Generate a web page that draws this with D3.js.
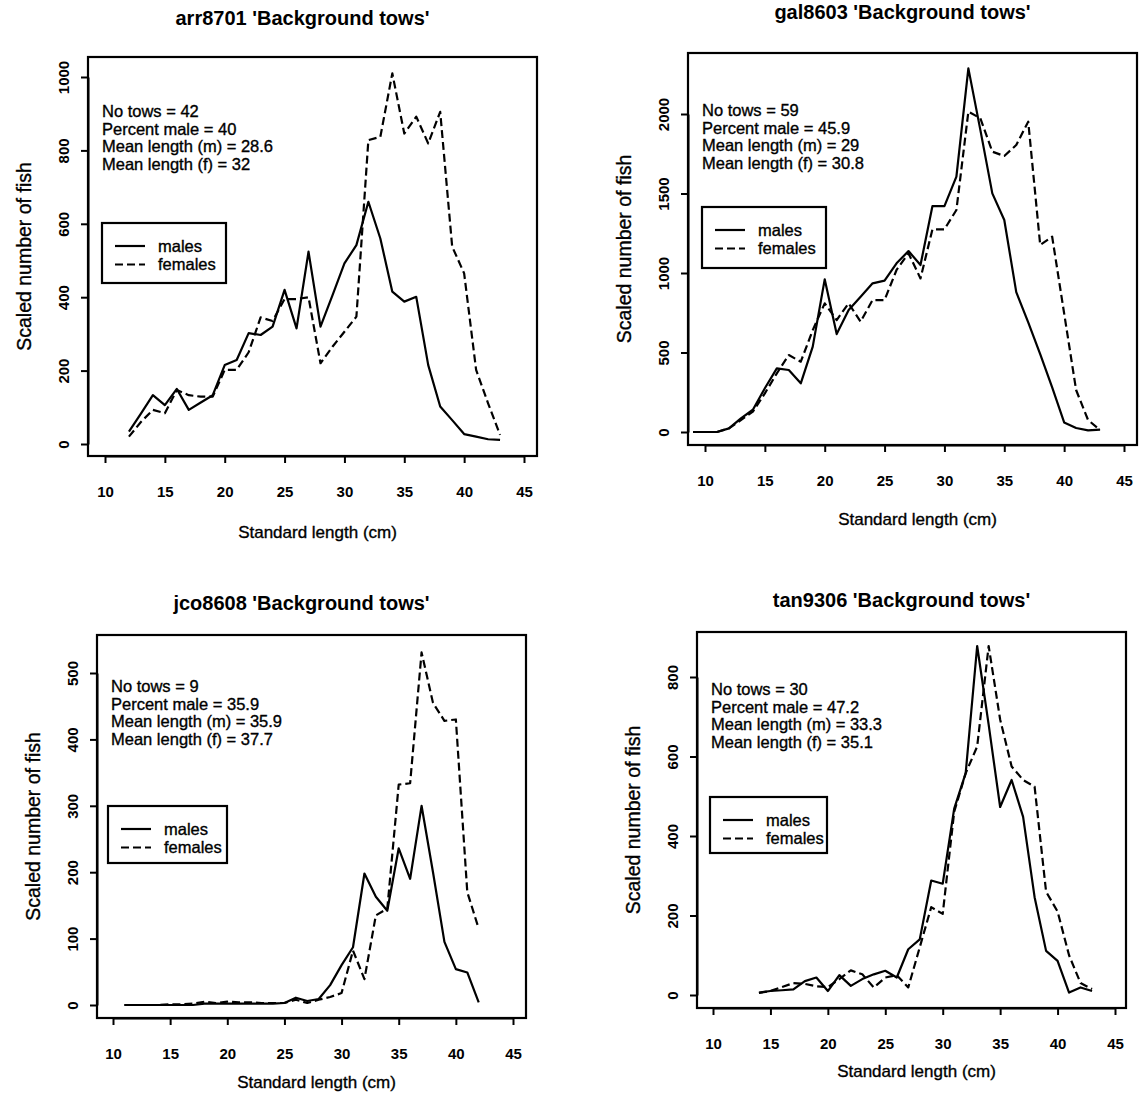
<!DOCTYPE html>
<html>
<head>
<meta charset="utf-8">
<script src="https://cdn.jsdelivr.net/npm/d3@7"></script>
<style>
  body { margin: 0; background: #fff; }
  svg { display: block; }
  text { font-family: "Liberation Sans", Arial, Helvetica, sans-serif; fill: #000; }
</style>
</head>
<body>
<svg id="chart" width="1141" height="1101"></svg>
<script>
// ---- Length-frequency data (standard length in cm, scaled number of fish) ----
const titles = ["arr8701 'Background tows'", "gal8603 'Background tows'",
                "jco8608 'Background tows'", "tan9306 'Background tows'"];
const noTows      = [42, 59, 9, 30];
const percentMale = [40, 45.9, 35.9, 47.2];
const meanLengthM = [28.6, 29, 35.9, 33.3];
const meanLengthF = [32, 30.8, 37.7, 35.1];

const xTicks  = [10, 15, 20, 25, 30, 35, 40, 45];
const yTicks1 = [0, 200, 400, 600, 800, 1000];
const yTicks2 = [0, 500, 1000, 1500, 2000];
const yTicks3 = [0, 100, 200, 300, 400, 500];
const yTicks4 = [0, 200, 400, 600, 800];

// arr8701
const lengths1 = [12,13,14,15,16,17,18,19,20,21,22,23,24,25,26,27,28,29,30,31,32,33,34,35,36,37,38,39,40,41,42,43];
const males1   = [34,83,133,106,150,93,113,133,215,229,302,297,320,420,315,524,320,405,492,542,660,560,415,388,401,215,102,65,27,20,13,11];
const females1 = [20,60,93,84,147,133,129,129,202,202,250,345,335,395,395,400,220,265,306,347,828,837,1010,846,892,819,905,538,465,202,111,25];

// gal8603
const lengths2 = [9,10,11,12,13,14,15,16,17,18,19,20,21,22,23,24,25,26,27,28,29,30,31,32,33,34,35,36,37,38,39,40,41,42,43];
const males2   = [0,0,0,23,86,140,275,400,390,306,537,960,616,767,851,935,952,1061,1138,1050,1421,1421,1606,2287,1900,1501,1333,880,690,490,280,60,25,10,15];
const females2 = [0,0,0,23,75,128,243,369,484,442,641,809,704,809,694,830,830,1019,1124,966,1275,1275,1396,2015,1973,1763,1736,1805,1952,1176,1228,746,264,75,13];

// jco8608
const lengths3 = [11,12,13,14,15,16,17,18,19,20,21,22,23,24,25,26,27,28,29,30,31,32,33,34,35,36,37,38,39,40,41,42];
const males3   = [0,0,0,0,0,0,0,2,2,2,2,2,2,2,3,11,6,9,30,60,87,198,163,142,236,190,300,200,95,54,49,4];
const females3 = [0,0,0,0,1,1,2,5,3,5,4,4,3,3,3,8,3,8,12,18,82,39,135,145,332,334,531,455,428,430,170,115];

// tan9306
const lengths4 = [14,15,16,17,18,19,20,21,22,23,24,25,26,27,28,29,30,31,32,33,34,35,36,37,38,39,40,41,42,43];
const males4   = [6,10,12,14,35,44,10,50,23,40,52,61,44,115,140,288,280,469,558,878,680,473,541,448,246,111,86,6,19,10];
const females4 = [5,10,20,30,28,22,20,40,62,52,19,44,50,19,120,221,204,461,558,625,878,693,575,541,524,260,210,100,30,15];

const seriesLabels = ["males", "females"];

// ---- Panel geometry (plot box in px, pixel anchors for the axes) ----
const panels = [
  { lengths: lengths1, males: males1, females: females1, yTicks: yTicks1,
    box: { L: 88, R: 537, T: 57, B: 456 }, xPx: [105, 524], yPx: [444, 77], yRef: 1000,
    titleY: 25, xTitleDy: 82, statsDy: 60, legend: { dx: 14, dy: 166, w: 124, h: 60 } },
  { lengths: lengths2, males: males2, females: females2, yTicks: yTicks2,
    box: { L: 688, R: 1137, T: 53, B: 445 }, xPx: [705, 1124], yPx: [432, 114], yRef: 2000,
    titleY: 19, xTitleDy: 80, statsDy: 63, legend: { dx: 14, dy: 154, w: 124, h: 61 } },
  { lengths: lengths3, males: males3, females: females3, yTicks: yTicks3,
    box: { L: 97, R: 526, T: 635, B: 1018 }, xPx: [113, 513], yPx: [1005, 673], yRef: 500,
    titleY: 610, xTitleDy: 70, statsDy: 57, legend: { dx: 11, dy: 171, w: 119, h: 57 } },
  { lengths: lengths4, males: males4, females: females4, yTicks: yTicks4,
    box: { L: 697, R: 1126, T: 632, B: 1008 }, xPx: [713, 1115], yPx: [995, 677], yRef: 800,
    titleY: 607, xTitleDy: 69, statsDy: 63, legend: { dx: 13, dy: 165, w: 117, h: 56 } }
];

const svg = d3.select("#chart");
const INK = "#000";
const DASH = "8,4";

panels.forEach((p, i) => {
  const g = svg.append("g");
  const { L, R, T, B } = p.box;
  const cx = (L + R) / 2;

  const x = d3.scaleLinear().domain([10, 45]).range(p.xPx);
  const y = d3.scaleLinear().domain([0, p.yRef]).range(p.yPx);

  // main title
  g.append("text")
    .attr("x", cx - 10).attr("y", p.titleY)
    .attr("text-anchor", "middle")
    .style("font-size", "20px").style("font-weight", "bold")
    .text(titles[i]);

  // x axis
  const xAxis = d3.axisBottom(x).tickValues(xTicks).tickSize(7).tickSizeOuter(0)
    .tickPadding(23).tickFormat(d3.format("d"));
  const gx = g.append("g").attr("transform", `translate(0,${B})`).call(xAxis);
  gx.selectAll("line").attr("stroke", INK).attr("stroke-width", 2);
  gx.select(".domain").attr("stroke", INK).attr("stroke-width", 2);
  gx.selectAll("text").style("font-size", "15px").style("font-weight", "bold")
    .style("font-family", "'Liberation Sans', Arial, sans-serif").attr("fill", INK);

  g.append("text")
    .attr("x", cx + 5).attr("y", B + p.xTitleDy)
    .attr("text-anchor", "middle")
    .style("font-size", "17px")
    .attr("stroke", INK).attr("stroke-width", 0.35)
    .text("Standard length (cm)");

  // y axis (R-style labels parallel to the axis)
  const yAxis = d3.axisLeft(y).tickValues(p.yTicks).tickSize(7).tickSizeOuter(0).tickFormat("");
  const gy = g.append("g").attr("transform", `translate(${L},0)`).call(yAxis);
  gy.selectAll("line").attr("stroke", INK).attr("stroke-width", 2);
  gy.select(".domain").attr("stroke", INK).attr("stroke-width", 2);
  gy.selectAll(".tick").append("text")
    .attr("transform", "translate(-24,0) rotate(-90)")
    .attr("dy", "0.35em")
    .attr("text-anchor", "middle")
    .style("font-size", "15px").style("font-weight", "bold")
    .style("font-family", "'Liberation Sans', Arial, sans-serif")
    .attr("fill", INK)
    .text(d => d);

  g.append("text")
    .attr("transform", `translate(${L - 64},${(T + B) / 2}) rotate(-90)`)
    .attr("dy", "0.35em")
    .attr("text-anchor", "middle")
    .style("font-size", "19.5px")
    .attr("stroke", INK).attr("stroke-width", 0.35)
    .text("Scaled number of fish");

  // plot box
  g.append("rect")
    .attr("x", L).attr("y", T).attr("width", R - L).attr("height", B - T)
    .attr("fill", "none").attr("stroke", INK).attr("stroke-width", 2.2);

  // series lines
  const line = d3.line().x(d => x(d[0])).y(d => y(d[1]));
  const maleData = p.lengths.map((l, k) => [l, p.males[k]]);
  const femaleData = p.lengths.map((l, k) => [l, p.females[k]]);

  g.append("path").datum(femaleData)
    .attr("d", line).attr("fill", "none").attr("stroke", INK)
    .attr("stroke-width", 2.2).attr("stroke-dasharray", DASH)
    .attr("stroke-linejoin", "round");
  g.append("path").datum(maleData)
    .attr("d", line).attr("fill", "none").attr("stroke", INK)
    .attr("stroke-width", 2.2).attr("stroke-linejoin", "round");

  // summary statistics
  const stats = [
    `No tows = ${noTows[i]}`,
    `Percent male = ${percentMale[i]}`,
    `Mean length (m) = ${meanLengthM[i]}`,
    `Mean length (f) = ${meanLengthF[i]}`
  ];
  g.append("g").selectAll("text").data(stats).join("text")
    .attr("x", L + 14).attr("y", (d, k) => T + p.statsDy + k * 17.5)
    .style("font-size", "16.5px")
    .attr("stroke", INK).attr("stroke-width", 0.35)
    .text(d => d);

  // legend
  const lg = p.legend;
  const lx = L + lg.dx, ly = T + lg.dy;
  g.append("rect")
    .attr("x", lx).attr("y", ly).attr("width", lg.w).attr("height", lg.h)
    .attr("fill", "#fff").attr("stroke", INK).attr("stroke-width", 2.2);
  seriesLabels.forEach((lab, k) => {
    const ry = ly + 23 + k * 18.5;
    g.append("line")
      .attr("x1", lx + 13).attr("x2", lx + 43).attr("y1", ry).attr("y2", ry)
      .attr("stroke", INK).attr("stroke-width", 2.2)
      .attr("stroke-dasharray", k === 1 ? DASH : null);
    g.append("text")
      .attr("x", lx + 56).attr("y", ry).attr("dy", "0.35em")
      .style("font-size", "16.5px")
      .attr("stroke", INK).attr("stroke-width", 0.35)
      .text(lab);
  });
});
</script>
</body>
</html>
